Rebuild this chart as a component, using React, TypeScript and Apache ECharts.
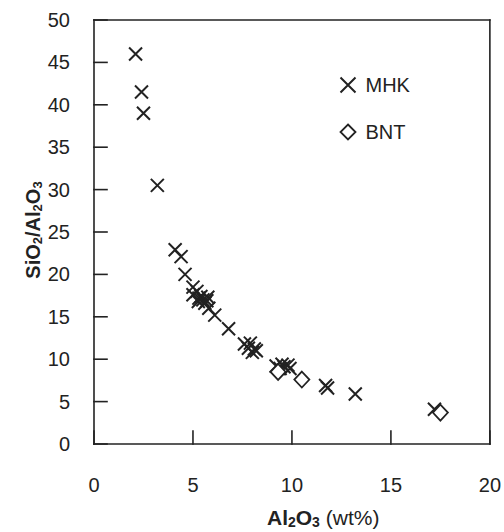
import React, { useEffect, useRef } from "react";
import * as echarts from "echarts";

// Al2O3 (wt%) vs SiO2/Al2O3 for the two sample groups
const mhkAl2O3 = [2.1, 2.4, 2.5, 3.2, 4.1, 4.4, 4.6, 5.0, 5.0, 5.2, 5.3, 5.27, 5.4, 5.5, 5.6, 5.7, 5.8, 5.75, 6.1, 6.8, 7.6, 7.8, 7.9, 8.0, 8.1, 8.2, 9.2, 9.4, 9.5, 9.6, 9.8, 9.9, 11.7, 11.8, 13.2, 17.2];
const mhkRatio = [46.0, 41.5, 39.0, 30.5, 22.9, 22.1, 20.0, 18.5, 17.6, 18.0, 17.2, 16.8, 17.4, 17.0, 16.6, 16.9, 16.0, 17.3, 15.2, 13.6, 11.8, 11.3, 11.9, 10.8, 11.2, 11.0, 9.2, 8.9, 9.4, 9.1, 9.3, 8.9, 6.9, 6.6, 5.9, 4.1];
const bntAl2O3 = [9.3, 10.5, 17.5];
const bntRatio = [8.5, 7.6, 3.7];

const xTicks = [0, 5, 10, 15, 20];
const yTicks = [0, 5, 10, 15, 20, 25, 30, 35, 40, 45, 50];

const ink = "#222";
const font = "'Liberation Sans', Arial, sans-serif";
const crossSymbol = "path://M0,0L10,10M10,0L0,10";
const tickLen = 13;
const frameWidth = 1.6;

export default function App() {
  const ref = useRef<HTMLDivElement>(null);

  useEffect(() => {
    if (!ref.current) return;
    document.body.style.margin = "0";
    document.body.style.overflow = "hidden";
    const chart = echarts.init(ref.current, undefined, { renderer: "svg" });
    const mhk = mhkAl2O3.map((x, i) => [x, mhkRatio[i]]);
    const bnt = bntAl2O3.map((x, i) => [x, bntRatio[i]]);
    const xMin = xTicks[0];
    const xMax = xTicks[xTicks.length - 1];
    const yMin = yTicks[0];
    const yMax = yTicks[yTicks.length - 1];

    const titles = [
      {
        type: "text",
        left: 267,
        top: 507,
        style: {
          text: "{b|Al}{bs|2}{b|O}{bs|3}{n| (wt%)}",
          rich: {
            b: { fontSize: 21, fontWeight: "bold", fontFamily: font, fill: ink },
            bs: { fontSize: 14, fontWeight: "bold", fontFamily: font, fill: ink, verticalAlign: "bottom", padding: [8, 0, 0, 0] },
            n: { fontSize: 21, fontFamily: font, fill: ink },
          },
        },
      },
      {
        type: "text",
        x: 33,
        y: 230,
        rotation: Math.PI / 2,
        style: {
          text: "{b|SiO}{bs|2}{b|/Al}{bs|2}{b|O}{bs|3}",
          align: "center",
          verticalAlign: "middle",
          rich: {
            b: { fontSize: 20, fontWeight: "bold", fontFamily: font, fill: ink },
            bs: { fontSize: 13, fontWeight: "bold", fontFamily: font, fill: ink, verticalAlign: "bottom", padding: [8, 0, 0, 0] },
          },
        },
      },
    ];

    chart.setOption({
      animation: false,
      backgroundColor: "#fff",
      grid: { left: 94, right: 14, top: 20, bottom: 88 },
      xAxis: {
        type: "value",
        min: xMin,
        max: xMax,
        interval: 5,
        axisLine: { show: false },
        axisTick: { show: false },
        axisLabel: { show: true, color: ink, fontSize: 20, fontFamily: font, margin: 31 },
        splitLine: { show: false },
      },
      yAxis: {
        type: "value",
        min: yMin,
        max: yMax,
        interval: 5,
        axisLine: { show: false },
        axisTick: { show: false },
        axisLabel: { show: true, color: ink, fontSize: 20, fontFamily: font, margin: 24 },
        splitLine: { show: false },
      },
      legend: {
        orient: "vertical",
        left: 333,
        top: 70,
        itemWidth: 15,
        itemHeight: 15,
        itemGap: 27,
        textStyle: { color: ink, fontSize: 20, fontFamily: font, padding: [0, 0, 0, 5] },
        data: [
          { name: "MHK", icon: crossSymbol, itemStyle: { color: "none", borderColor: ink, borderWidth: 2 } },
          { name: "BNT", icon: "diamond", itemStyle: { color: "#fff", borderColor: ink, borderWidth: 1.8 } },
        ],
      },
      series: [
        {
          name: "MHK",
          type: "scatter",
          data: mhk,
          symbol: crossSymbol,
          symbolSize: 13,
          itemStyle: { color: "none", borderColor: ink, borderWidth: 2, opacity: 1 },
        },
        {
          name: "BNT",
          type: "scatter",
          data: bnt,
          symbol: "diamond",
          symbolSize: [15, 16],
          itemStyle: { color: "#fff", borderColor: ink, borderWidth: 1.8, opacity: 1 },
        },
      ],
      graphic: titles,
    });

    // Frame and inward ticks, placed through the grid's own coordinate conversion
    const px = (x: number, y: number) => chart.convertToPixel({ gridIndex: 0 }, [x, y]) as number[];
    const [x0, y0] = px(xMin, yMin);
    const [x1, y1] = px(xMax, yMax);
    const line = (ax: number, ay: number, bx: number, by: number) => ({
      type: "line",
      z: 20,
      silent: true,
      shape: { x1: ax, y1: ay, x2: bx, y2: by },
      style: { stroke: ink, lineWidth: frameWidth, lineCap: "square" },
    });
    const frame = [
      line(x0, y1, x1, y1),
      line(x1, y1, x1, y0),
      line(x0, y0, x1, y0),
      line(x0, y1, x0, y0),
      ...xTicks.map((v) => {
        const [tx] = px(v, yMin);
        return line(tx, y0, tx, y0 - tickLen);
      }),
      ...yTicks.map((v) => {
        const [, ty] = px(xMin, v);
        return line(x0, ty, x0 + tickLen, ty);
      }),
    ];
    chart.setOption({ graphic: [...titles, ...frame] });

    return () => chart.dispose();
  }, []);

  return <div ref={ref} style={{ position: "absolute", left: 0, top: 0, width: 504, height: 532 }} />;
}
